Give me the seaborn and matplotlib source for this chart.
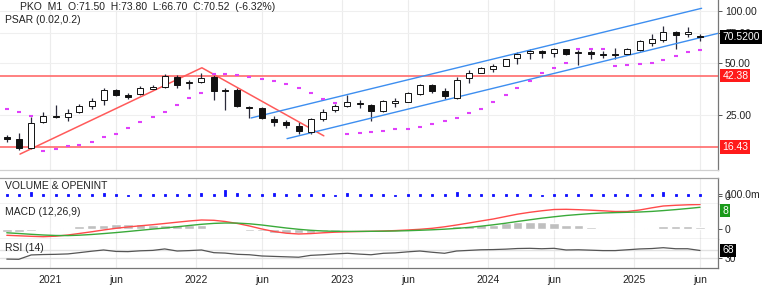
import numpy as np
import pandas as pd
import matplotlib
matplotlib.use("Agg")
import matplotlib.pyplot as plt
import matplotlib.dates as mdates
import matplotlib.ticker as mticker
import matplotlib.transforms as mtrans
import seaborn as sns

# ---------------- data ----------------
months = pd.period_range("2020-09", "2025-06", freq="M")
dates = months.to_timestamp() + pd.Timedelta(days=14)

open_ = [18.5, 18.3, 16.2, 22.9, 24.7, 24.4, 26.1, 28.3, 30.6, 34.9,
         32.6, 33.0, 35.2, 36.2, 41.6, 38.2, 38.7, 41.6, 34.9, 34.9,
         27.9, 27.5, 23.9, 22.9, 21.6, 20.0, 23.9, 26.8, 28.2, 29.3,
         28.6, 26.4, 29.5, 29.9, 33.1, 37.3, 34.6, 31.6, 40.8, 43.9,
         46.2, 48.3, 53.2, 56.9, 58.7, 56.9, 60.0, 56.9, 58.2, 56.4,
         55.9, 56.2, 59.5, 65.0, 67.9, 75.8, 73.3, 71.50]
high = [19.2, 19.8, 24.4, 26.1, 28.8, 27.0, 28.9, 31.6, 35.7, 35.3,
        33.4, 36.8, 37.3, 43.0, 42.6, 39.9, 43.6, 42.6, 35.7, 35.7,
        28.3, 27.9, 24.7, 23.6, 22.9, 24.0, 27.3, 29.2, 32.6, 30.6,
        29.2, 30.8, 31.5, 34.0, 38.0, 37.8, 35.7, 41.6, 45.6, 47.6,
        49.1, 53.0, 58.2, 60.3, 59.5, 61.3, 60.6, 59.5, 59.5, 59.0,
        60.8, 60.8, 67.9, 73.3, 81.9, 76.9, 80.5, 73.80]
low = [17.4, 15.7, 16.0, 22.6, 24.2, 23.3, 25.9, 27.3, 28.6, 32.4,
       30.9, 32.7, 34.9, 36.0, 35.7, 35.2, 38.5, 30.8, 26.8, 27.9,
       24.1, 23.7, 21.6, 21.1, 19.6, 19.6, 23.3, 26.1, 28.0, 27.7,
       23.1, 26.1, 27.9, 29.7, 32.8, 33.4, 31.2, 31.2, 38.5, 43.6,
       44.2, 48.0, 49.1, 52.5, 53.6, 53.9, 55.6, 48.7, 52.5, 53.2,
       52.5, 55.6, 59.0, 62.9, 66.4, 60.0, 71.0, 66.70]
close = [18.3, 16.2, 22.5, 24.7, 24.3, 25.8, 28.2, 30.2, 34.9, 32.6,
         32.0, 35.9, 36.4, 42.0, 37.3, 38.5, 40.8, 34.6, 34.4, 28.3,
         27.4, 24.1, 22.9, 21.9, 20.2, 23.9, 26.1, 28.2, 29.9, 28.9,
         26.4, 30.2, 29.9, 33.7, 37.6, 34.4, 32.2, 40.2, 43.9, 46.6,
         48.3, 52.5, 56.4, 58.7, 56.9, 60.0, 56.4, 58.2, 56.4, 55.6,
         55.5, 60.0, 67.0, 68.8, 75.3, 72.6, 75.28, 70.52]
psar = [27.0, 26.0, 24.8, 15.6, 16.0, 16.5, 16.9, 17.5, 18.7, 19.6,
        21.1, 22.7, 24.3, 26.1, 28.7, 31.5, 33.7, 43.4, 43.2, 42.6,
        41.5, 40.4, 39.3, 37.8, 35.7, 33.6, 30.9, 29.3, 19.4, 19.8,
        20.0, 20.3, 20.7, 20.9, 21.4, 22.2, 23.2, 24.1, 25.6, 27.3,
        29.9, 32.6, 35.7, 39.5, 43.9, 47.0, 49.8, 60.6, 60.6, 60.5,
        48.3, 48.7, 49.4, 50.4, 52.1, 54.9, 57.7, 59.5]
volume_m = [90, 80, 180, 90, 95, 85, 90, 80, 170, 90,
            70, 80, 85, 90, 95, 80, 170, 110, 280, 160,
            90, 100, 150, 90, 90, 100, 95, 70, 150, 80,
            85, 80, 75, 90, 85, 90, 80, 190, 85, 90,
            80, 85, 90, 80, 75, 85, 80, 90, 80, 85,
            80, 85, 90, 100, 190, 110, 90, 80]
macd = [-2.18, -2.36, -2.55, -2.69, -2.51, -2.07, -1.53, -0.91, -0.25, 0.36,
        0.84, 1.27, 1.67, 2.11, 2.58, 3.02, 3.38, 3.27, 2.84, 2.11,
        1.20, 0.11, -0.80, -1.42, -1.71, -1.56, -1.27, -1.05, -0.91, -0.80,
        -0.73, -0.62, -0.47, -0.25, 0.00, 0.36, 0.91, 1.56, 2.29, 3.02,
        3.75, 4.65, 5.49, 6.18, 6.73, 7.20, 7.27, 7.13, 6.95, 6.73,
        6.47, 6.47, 7.02, 7.82, 8.47, 8.73, 8.91, 9.02]
signal = [-1.27, -1.53, -1.82, -2.07, -2.25, -2.29, -2.15, -1.89, -1.56, -1.20,
          -0.80, -0.36, 0.07, 0.47, 0.91, 1.38, 1.82, 2.15, 2.29, 2.25,
          2.00, 1.56, 1.02, 0.47, 0.00, -0.36, -0.62, -0.73, -0.76, -0.76,
          -0.73, -0.69, -0.62, -0.51, -0.36, -0.18, 0.04, 0.33, 0.69, 1.13,
          1.64, 2.22, 2.84, 3.45, 4.04, 4.55, 5.02, 5.38, 5.71, 5.93,
          6.07, 6.18, 6.29, 6.51, 6.80, 7.16, 7.56, 8.00]
hist = [-0.9, -0.9, -0.7, -0.4, 0.3, 0.4, 1.1, 1.4, 1.7, 1.8,
        1.8, 1.8, 1.7, 1.7, 1.6, 1.6, 1.5, 0.6, 0.5, 0.0,
        -0.7, -0.8, -1.2, -1.4, -1.5, -1.3, -0.8, -0.6, -0.2, -0.2,
        -0.1, -0.1, 0.1, 0.2, 0.5, 0.6, 0.6, 1.1, 1.3, 1.4,
        1.5, 2.2, 2.5, 2.6, 2.6, 2.3, 1.6, 1.4, 0.9, 0.4,
        0.3, 0.3, 0.5, 0.5, 1.2, 1.3, 1.2, 0.7]
rsi = [26, 25, 46, 48, 49, 51, 57, 64, 70, 63,
       62, 66, 68, 75, 65, 67, 70, 57, 55, 49,
       47, 41, 39, 37, 35, 44, 47, 51, 54, 50,
       47, 54, 56, 61, 65, 59, 54, 65, 68, 71,
       72, 74, 77, 78, 76, 78, 70, 71, 69, 67,
       67, 71, 75, 77, 81, 76, 76, 67.6]

price_ticks = [25, 50, 75, 100]
level_lines = [42.38, 16.43]
red_trend_dates = ["2020-10-18", "2022-01-16", "2022-11-17"]
red_trend_prices = [14.9, 47.0, 19.0]
blue_low_dates = ["2022-08-17", "2025-07-30"]
blue_low_prices = [18.3, 74.3]
blue_up_dates = ["2022-05-19", "2025-06-19"]
blue_up_prices = [24.1, 103.7]
xtick_labels = ["2021", "jun", "2022", "jun", "2023", "jun", "2024", "jun", "2025", "jun"]
header = "PKO  M1  O:71.50  H:73.80  L:66.70  C:70.52  (-6.32%)"

n = len(dates)
for arr in (open_, high, low, close, psar, volume_m, macd, signal, hist, rsi):
    assert len(arr) == n, len(arr)

# ---------------- style ----------------
sns.set_theme(style="white")
plt.rcParams["font.family"] = ["Liberation Sans", "DejaVu Sans"]
FS = 7.5
TXT = "#222222"

W, H = 777, 287
fig = plt.figure(figsize=(W / 100, H / 100), dpi=100)


def ax_px(top, bottom, left=0, right=718):
    return fig.add_axes([left / W, 1 - bottom / H, (right - left) / W, (bottom - top) / H])


ax_main = ax_px(0, 170)
ax_vol = ax_px(177.5, 204)
ax_macd = ax_px(204, 239)
ax_rsi = ax_px(239, 268)
axes = [ax_main, ax_vol, ax_macd, ax_rsi]

xmin, xmax = pd.Timestamp("2020-08-29"), pd.Timestamp("2025-07-30")
tick_dates = []
for y in range(2021, 2026):
    tick_dates += [pd.Timestamp(f"{y}-01-01"), pd.Timestamp(f"{y}-06-15")]

o = np.array(open_); h = np.array(high); l = np.array(low); c = np.array(close)
up = c >= o

# ---------------- main panel ----------------
ax = ax_main
ax.set_yscale("log")
ax.vlines(dates, l, h, color="#2a2a3a", lw=0.9, zorder=3)
bottoms = np.minimum(o, c)
heights = np.maximum(np.abs(c - o), bottoms * 0.02)
ax.bar(dates, heights, bottom=bottoms, width=15,
       color=np.where(up, "white", "#111111"), edgecolor="#111111",
       linewidth=0.7, zorder=4)
sns.scatterplot(x=dates, y=psar, ax=ax, marker="_", s=5, color="#e040fb",
                linewidth=1.5, zorder=5, legend=False)
for lv in level_lines:
    ax.axhline(lv, color="#ff6b6b", lw=1.2, zorder=2)
sns.lineplot(x=pd.to_datetime(red_trend_dates), y=red_trend_prices, ax=ax,
             color="#ff5a5a", lw=1.1, estimator=None, zorder=3)
sns.lineplot(x=pd.to_datetime(blue_low_dates), y=blue_low_prices, ax=ax,
             color="#3d8ef0", lw=1.0, estimator=None, zorder=3)
sns.lineplot(x=pd.to_datetime(blue_up_dates), y=blue_up_prices, ax=ax,
             color="#3d8ef0", lw=1.0, estimator=None, zorder=3)
ax.set_ylim(12.06, 115.8)
ax.set_yticks(price_ticks)
ax.yaxis.set_major_formatter(mticker.FormatStrFormatter("%.2f"))
ax.yaxis.set_minor_locator(mticker.NullLocator())
ax.grid(True, axis="y", color="#efefef", lw=0.8)
ax.text(20 / 718, 1 - 7 / 170, header, transform=ax.transAxes, fontsize=FS,
        color=TXT, va="center", ha="left")
ax.text(5 / 718, 1 - 20 / 170, "PSAR (0.02,0.2)", transform=ax.transAxes,
        fontsize=FS, color=TXT, va="center", ha="left")


def right_box(axis, yval, text, fc, tc="white"):
    tr = mtrans.blended_transform_factory(axis.transAxes, axis.transData)
    axis.text(1.006, yval, text, transform=tr, fontsize=FS, color=tc,
              va="center", ha="left", zorder=10, clip_on=False,
              bbox=dict(boxstyle="square,pad=0.18", fc=fc, ec="none"))


right_box(ax_main, close[-1], "70.5200", "black")
right_box(ax_main, level_lines[0], "42.38", "#ff1a1a")
right_box(ax_main, level_lines[1], "16.43", "#ff1a1a")

# ---------------- volume ----------------
ax = ax_vol
ax.bar(dates, np.array(volume_m) * 1e6, width=5, color="#1010ff",
       edgecolor="#1010ff", linewidth=0.6, zorder=3)
ax.set_ylim(-400e6, 925e6)
ax.set_yticks([0, 100e6])
ax.set_yticklabels(["0", "100.0m"])
ax.text(5 / 718, 0.68, "VOLUME & OPENINT", transform=ax.transAxes,
        fontsize=FS, color=TXT, va="center", ha="left")

# ---------------- MACD ----------------
ax = ax_macd
ax.bar(dates, hist, width=24, color="#bfbfbf", zorder=2)
sns.lineplot(x=dates, y=macd, ax=ax, color="#ff4a4a", lw=1.0, zorder=3)
sns.lineplot(x=dates, y=signal, ax=ax, color="#3aaa3a", lw=1.0, zorder=3)
ax.set_ylim(-3.53, 9.2)
ax.set_yticks([0])
ax.set_yticklabels(["0"])
right_box(ax_macd, 6.8, "8", "#1a9a1a")
ax.text(5 / 718, 0.77, "MACD (12,26,9)", transform=ax.transAxes,
        fontsize=FS, color=TXT, va="center", ha="left")

# ---------------- RSI ----------------
ax = ax_rsi
ax.axhline(70, color="#e2e2e2", lw=1.0, zorder=1)
ax.axhline(30, color="#e2e2e2", lw=1.0, zorder=1)
sns.lineplot(x=dates, y=rsi, ax=ax, color="#555555", lw=0.9, zorder=3)
ax.set_ylim(-17, 123)
ax.set_yticks([30])
ax.set_yticklabels(["30"])
right_box(ax_rsi, rsi[-1], "68", "black")
ax.text(5 / 718, 0.70, "RSI (14)", transform=ax.transAxes,
        fontsize=FS, color=TXT, va="center", ha="left")

# ---------------- common formatting ----------------
for i, ax in enumerate(axes):
    ax.set_facecolor("white")
    ax.set_xlim(xmin, xmax)
    ax.set_xticks(mdates.date2num(tick_dates))
    ax.grid(True, axis="x", color="#ececec", lw=0.8)
    ax.set_axisbelow(True)
    ax.set_xlabel("")
    ax.set_ylabel("")
    ax.yaxis.tick_right()
    ax.tick_params(axis="y", labelsize=FS, length=3, width=0.7, color="#555555",
                   labelcolor=TXT, pad=2, left=False, right=True)
    if i < 3:
        ax.tick_params(axis="x", bottom=False, labelbottom=False)
    else:
        ax.set_xticklabels(xtick_labels)
        ax.tick_params(axis="x", labelsize=FS, length=2, width=0.7, color="#777777",
                       labelcolor=TXT, pad=3)
    ax.spines["left"].set_visible(False)
    ax.spines["top"].set_visible(False)
    ax.spines["right"].set_color("#777777")
    ax.spines["right"].set_linewidth(0.9)
    ax.spines["bottom"].set_color("#999999")
    ax.spines["bottom"].set_linewidth(0.9)

ax_main.spines["bottom"].set_color("#d0d0d0")
ax_vol.spines["top"].set_visible(True)
ax_vol.spines["top"].set_color("#a0a0a0")
ax_vol.spines["top"].set_linewidth(0.9)
ax_rsi.spines["bottom"].set_color("#777777")

fig.savefig("out.png", dpi=100)
